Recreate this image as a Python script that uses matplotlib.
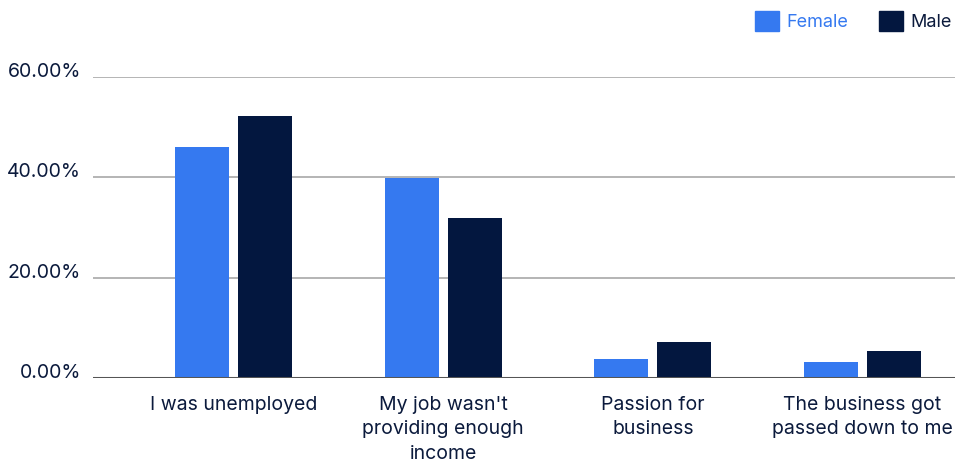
import matplotlib
matplotlib.use("Agg")
import matplotlib.pyplot as plt
import matplotlib.transforms as mtransforms
from matplotlib.patches import Patch
import numpy as np

# Reasons for starting a business, share of respondents by gender (%)
categories = [
    "I was unemployed",
    "My job wasn't\nproviding enough\nincome",
    "Passion for\nbusiness",
    "The business got\npassed down to me",
]
female = [46.1, 39.9, 3.8, 3.2]
male = [52.3, 31.8, 7.2, 5.4]
y_ticks = [0, 20, 40, 60]
y_tick_labels = ["0.00%", "20.00%", "40.00%", "60.00%"]

female_color = "#3579F0"
male_color = "#03173F"
text_color = "#0B1A3C"

plt.rcParams["font.family"] = ["Inter", "DejaVu Sans"]

fig = plt.figure(figsize=(9.59, 4.63), dpi=100)
ax = fig.add_axes([0.097, 0.1836, 0.8988, 0.6501])

x = np.arange(len(categories))
width = 0.2575
offset = 0.150
ax.bar(x - offset, female, width, color=female_color, zorder=3)
ax.bar(x + offset, male, width, color=male_color, zorder=3)

ax.set_xlim(-0.670, 3.441)
ax.set_ylim(0, 60)

# horizontal gridlines, darker baseline at zero
for t in y_ticks[1:]:
    ax.axhline(t, color="#A8A8A8", linewidth=1.2, zorder=1)
ax.axhline(0, color="#555555", linewidth=2.2, zorder=4)

for side in ["top", "right", "left", "bottom"]:
    ax.spines[side].set_visible(False)

ax.set_yticks(y_ticks)
ax.set_yticklabels(y_tick_labels, fontsize=14, color=text_color)
ax.tick_params(axis="y", length=0, pad=8.5)
shift = mtransforms.ScaledTranslation(0, 5 / 72, fig.dpi_scale_trans)
for lbl in ax.get_yticklabels():
    lbl.set_transform(lbl.get_transform() + shift)

ax.set_xticks(x)
ax.set_xticklabels(categories, fontsize=14, color=text_color, linespacing=1.45)
ax.tick_params(axis="x", length=0, pad=13)

handles = [Patch(color=female_color, label="Female"),
           Patch(color=male_color, label="Male")]
leg = fig.legend(handles=handles, loc="upper right", bbox_to_anchor=(1.0, 0.992),
                 ncol=2, frameon=False, fontsize=13, handlelength=1.35,
                 handleheight=1.35, handletextpad=0.4, columnspacing=1.7,
                 borderaxespad=0.0)
leg.get_texts()[0].set_color(female_color)
leg.get_texts()[1].set_color(text_color)

fig.savefig("out.png", dpi=100)
